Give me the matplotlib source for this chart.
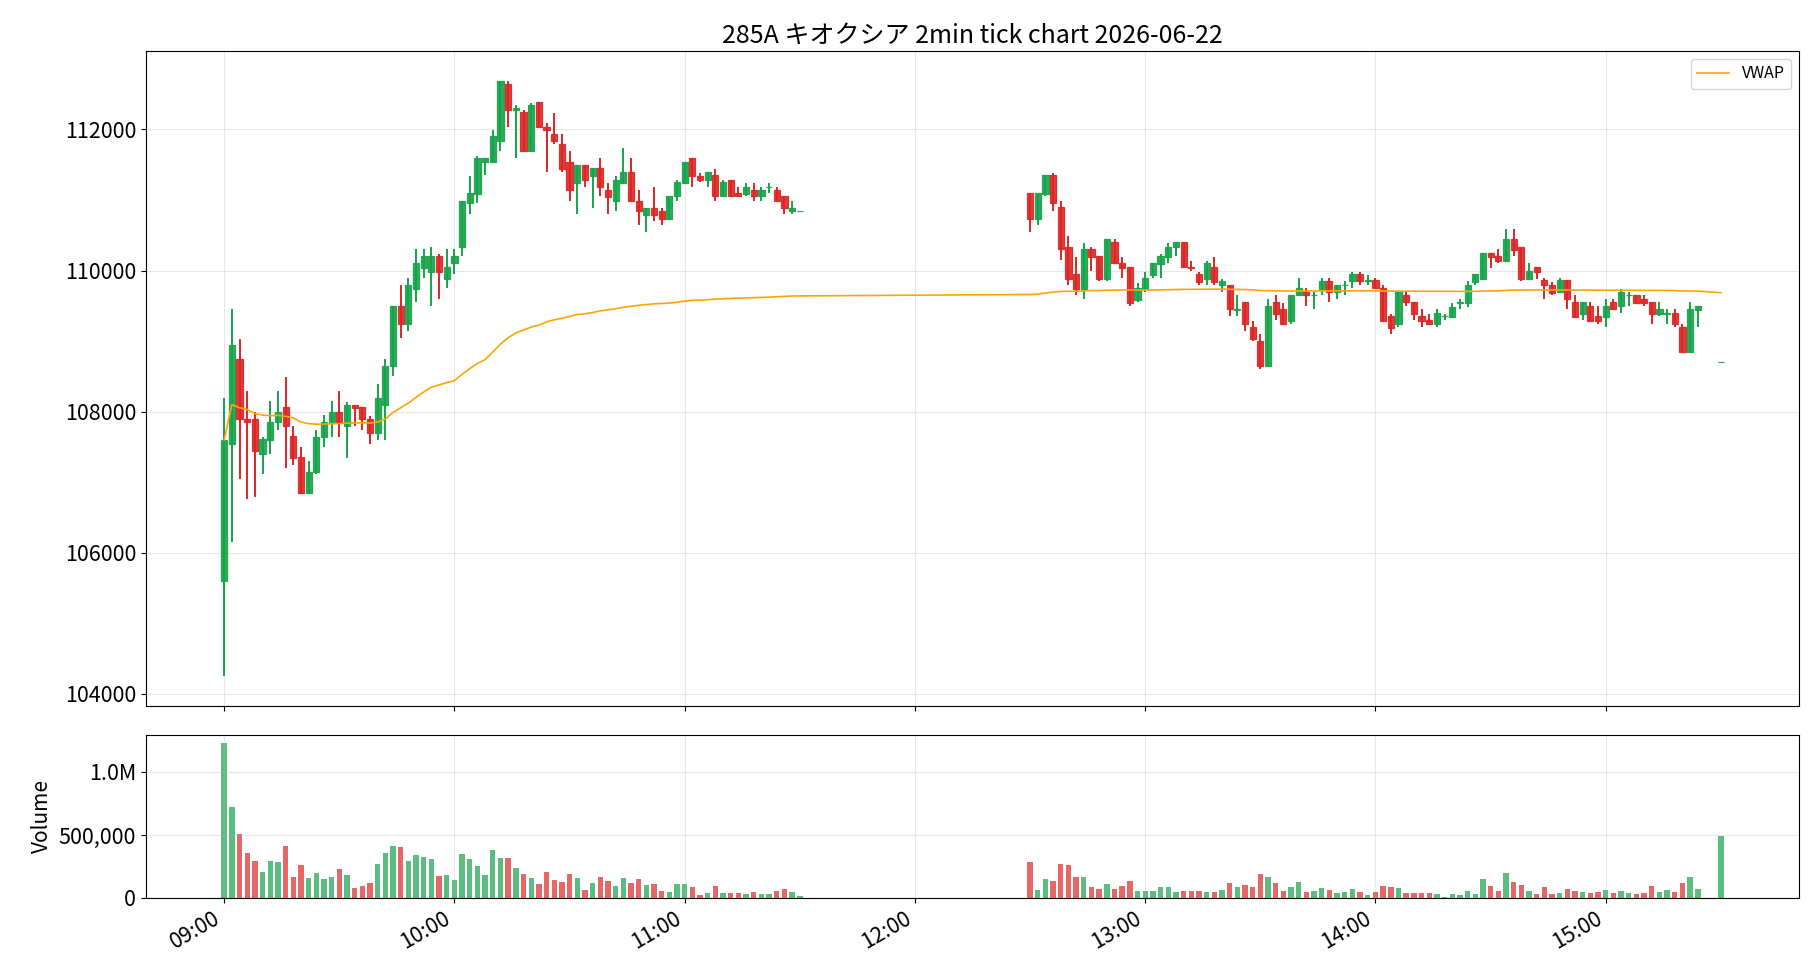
import numpy as np
import pandas as pd
import matplotlib
matplotlib.use("Agg")
import matplotlib.pyplot as plt
import matplotlib.dates as mdates
from matplotlib.ticker import FuncFormatter

plt.rcParams['font.family'] = ['Noto Sans CJK JP', 'DejaVu Sans']

title = "285A キオクシア 2min tick chart 2026-06-22"

# morning session 09:00 - 11:30 (2 min bars)
am_open = [105600, 107540, 108750, 107900, 107900, 107400, 107600, 107850, 108060, 107650,
           107350, 106850, 107140, 107640, 107850, 108000, 107800, 108100, 108060, 107890,
           107700, 108090, 108650, 109500, 109240, 109740, 110040, 109980, 110200, 109880,
           110100, 110330, 110950, 111090, 111540, 111540, 111840, 112650, 112280, 112240,
           111690, 112390, 112040, 111940, 111800, 111540, 111240, 111490, 111340, 111450,
           111140, 110990, 111240, 111390, 110990, 110790, 110890, 110850, 110730, 111050,
           111240, 111600, 111340, 111280, 111350, 111050, 111290, 111100, 111090, 111140,
           111050, 111180, 111140, 111050, 110850, 110850]
am_high = [108190, 109450, 109030, 108290, 107990, 107640, 108150, 108290, 108490, 107800,
           107500, 107300, 107740, 107950, 108150, 108290, 108140, 108100, 108060, 107940,
           108390, 108740, 109500, 109790, 109890, 110300, 110300, 110330, 110240, 110300,
           110300, 110990, 111340, 111630, 111600, 111990, 112690, 112680, 112340, 112280,
           112380, 112390, 112090, 112230, 111930, 111690, 111490, 111490, 111450, 111590,
           111240, 111340, 111730, 111590, 111140, 110890, 111190, 110880, 111050, 111280,
           111540, 111600, 111380, 111390, 111440, 111280, 111290, 111190, 111240, 111240,
           111190, 111240, 111190, 111050, 110990, 110850]
am_low = [104250, 106150, 107050, 106760, 106790, 107110, 107400, 107740, 107200, 107240,
          106850, 106850, 107110, 107500, 107640, 107640, 107340, 107800, 107740, 107540,
          107600, 107600, 108500, 109050, 109140, 109550, 109890, 109500, 109600, 109750,
          109950, 110200, 110800, 110950, 111350, 111540, 111700, 112040, 111600, 111690,
          111690, 112030, 111390, 111800, 111390, 110990, 110800, 111190, 110890, 111050,
          110800, 110850, 111240, 110990, 110640, 110540, 110700, 110640, 110730, 110990,
          111240, 111190, 111250, 111190, 110990, 111050, 111050, 111050, 111050, 110990,
          110990, 111100, 110990, 110800, 110800, 110850]
am_close = [107600, 108950, 107890, 107850, 107440, 107610, 107860, 108000, 107800, 107340,
            106850, 107150, 107640, 107860, 108000, 107850, 108100, 108050, 107890, 107700,
            108200, 108650, 109500, 109240, 109800, 110110, 110200, 110200, 109980, 110050,
            110200, 110990, 111100, 111600, 111600, 111900, 112690, 112280, 112300, 111690,
            112350, 112030, 111990, 111840, 111440, 111140, 111490, 111280, 111450, 111180,
            111040, 111290, 111390, 110990, 110850, 110890, 110790, 110730, 111050, 111250,
            111540, 111340, 111280, 111390, 111050, 111250, 111050, 111050, 111190, 111050,
            111140, 111190, 110990, 110890, 110890, 110850]
am_volume = [1232000, 721000, 508000, 358000, 295000, 208000, 295000, 287000, 413000, 168000,
             263000, 161000, 200000, 153000, 168000, 232000, 184000, 82000, 97000, 121000,
             271000, 358000, 413000, 405000, 295000, 342000, 326000, 311000, 176000, 184000,
             145000, 350000, 311000, 255000, 184000, 382000, 318000, 318000, 240000, 192000,
             161000, 113000, 208000, 145000, 129000, 192000, 161000, 66000, 121000, 168000,
             137000, 97000, 161000, 121000, 153000, 105000, 113000, 58000, 50000, 113000,
             113000, 89000, 26000, 42000, 97000, 42000, 42000, 42000, 34000, 50000,
             34000, 34000, 58000, 74000, 50000, 18000]

# afternoon session 12:30 - 15:24, then closing auction 15:30
pm_open = [111100, 110730, 111080, 111350, 110900, 110340, 109950, 109740, 110300, 110200,
           109880, 110400, 110110, 110050, 109580, 109740, 109940, 110090, 110190, 110330,
           110400, 110050, 109950, 109880, 110050, 109790, 109790, 109440, 109560, 109200,
           109000, 108650, 109550, 109460, 109290, 109650, 109700, 109650, 109740, 109850,
           109700, 109790, 109850, 109950, 109850, 109860, 109750, 109350, 109240, 109650,
           109550, 109350, 109300, 109240, 109350, 109340, 109540, 109540, 109840, 109880,
           110250, 110200, 110130, 110450, 110340, 109880, 110050, 109860, 109800, 109690,
           109860, 109560, 109390, 109500, 109360, 109340, 109560, 109500, 109650, 109660,
           109600, 109560, 109390, 109390, 109400, 109200, 108840, 109440, 108700]
pm_high = [111100, 111100, 111350, 111380, 110990, 110490, 110190, 110390, 110330, 110200,
           110450, 110440, 110190, 110050, 109830, 109980, 110110, 110240, 110390, 110400,
           110400, 110140, 109980, 110140, 110190, 109880, 109790, 109650, 109560, 109290,
           109100, 109590, 109650, 109540, 109650, 109890, 109750, 109690, 109890, 109890,
           109790, 109850, 109980, 109980, 109940, 109890, 109790, 109390, 109710, 109690,
           109550, 109450, 109390, 109450, 109390, 109540, 109590, 109850, 109950, 110250,
           110250, 110300, 110590, 110590, 110340, 110100, 110050, 109890, 109840, 109890,
           109860, 109650, 109560, 109550, 109500, 109590, 109590, 109740, 109690, 109660,
           109650, 109560, 109550, 109450, 109450, 109240, 109550, 109500, 108700]
pm_low = [110540, 110640, 111050, 110850, 110150, 109790, 109650, 109590, 109990, 109850,
          109850, 110100, 109900, 109500, 109550, 109690, 109900, 109900, 110110, 110200,
          110050, 109990, 109790, 109790, 109790, 109690, 109350, 109350, 109140, 109000,
          108610, 108650, 109300, 109240, 109240, 109650, 109500, 109450, 109650, 109550,
          109600, 109650, 109750, 109790, 109790, 109750, 109290, 109100, 109200, 109500,
          109300, 109200, 109240, 109200, 109300, 109340, 109450, 109490, 109790, 109880,
          110040, 110100, 110130, 110200, 109850, 109880, 109880, 109590, 109650, 109690,
          109450, 109340, 109300, 109280, 109240, 109200, 109450, 109400, 109500, 109540,
          109500, 109240, 109350, 109240, 109200, 108840, 108840, 109200, 108700]
pm_close = [110730, 111100, 111350, 110950, 110300, 109880, 109740, 110300, 110190, 109880,
            110450, 110100, 110040, 109540, 109750, 109900, 110110, 110200, 110340, 110400,
            110050, 110040, 109840, 110110, 109840, 109850, 109450, 109450, 109240, 109030,
            108650, 109500, 109390, 109240, 109650, 109750, 109650, 109660, 109850, 109700,
            109790, 109800, 109950, 109850, 109860, 109750, 109290, 109190, 109710, 109550,
            109390, 109290, 109240, 109400, 109350, 109490, 109560, 109800, 109950, 110250,
            110190, 110130, 110450, 110290, 109880, 110000, 109980, 109790, 109680, 109860,
            109590, 109340, 109560, 109280, 109280, 109500, 109450, 109700, 109660, 109540,
            109540, 109390, 109460, 109400, 109240, 108840, 109460, 109500, 108700]
pm_volume = [287000, 66000, 153000, 137000, 271000, 263000, 168000, 168000, 89000, 74000,
             113000, 74000, 97000, 137000, 58000, 58000, 58000, 89000, 89000, 50000,
             58000, 58000, 58000, 50000, 50000, 66000, 121000, 89000, 105000, 89000,
             192000, 168000, 121000, 58000, 89000, 129000, 50000, 58000, 82000, 66000,
             42000, 50000, 74000, 50000, 26000, 50000, 97000, 89000, 82000, 42000,
             42000, 42000, 42000, 34000, 11000, 34000, 26000, 58000, 34000, 153000,
             97000, 58000, 200000, 129000, 105000, 58000, 34000, 89000, 34000, 42000,
             74000, 58000, 50000, 42000, 50000, 66000, 42000, 58000, 42000, 34000,
             42000, 97000, 50000, 66000, 50000, 121000, 168000, 74000, 492000]

am_times = pd.date_range("2026-06-22 09:00", "2026-06-22 11:30", freq="2min")
pm_times = pd.date_range("2026-06-22 12:30", "2026-06-22 15:24", freq="2min").append(
    pd.DatetimeIndex(["2026-06-22 15:30"]))

df = pd.DataFrame({
    "open": am_open + pm_open,
    "high": am_high + pm_high,
    "low": am_low + pm_low,
    "close": am_close + pm_close,
    "volume": am_volume + pm_volume,
}, index=am_times.append(pm_times))

df["vwap"] = (df["close"] * df["volume"]).cumsum() / df["volume"].cumsum()

up_color = "#16a34a"
down_color = "#dc2626"

x = mdates.date2num(df.index.to_pydatetime())
up = df["close"] >= df["open"]
colors = np.where(up, up_color, down_color)

fig = plt.figure(figsize=(18.2, 9.8), dpi=100)
ax = fig.add_axes([0.0802, 0.2796, 0.9083, 0.6684])
ax_vol = fig.add_axes([0.0802, 0.0837, 0.9083, 0.1663], sharex=ax)

body_w = 1.6 / 1440
vol_w = 1.4 / 1440

ax.vlines(x, df["low"], df["high"], colors=colors, linewidth=1.4, zorder=2)
body_bottom = np.minimum(df["open"], df["close"])
body_height = np.abs(df["close"] - df["open"])
ax.bar(x, body_height, bottom=body_bottom, width=body_w, color=colors,
       edgecolor=colors, linewidth=0.9, alpha=0.9, zorder=3)
ax.plot(x, df["vwap"], color="orange", linewidth=1.2, label="VWAP", zorder=4)

ax.set_title(title, fontsize=18)
ax.grid(True, alpha=0.3)
ax.legend(loc="upper right", fontsize=11.5)
ax.tick_params(labelbottom=False, labelsize=15.5)

ax_vol.bar(x, df["volume"], width=vol_w, color=colors, alpha=0.7)
ax_vol.set_ylabel("Volume", fontsize=15)
ax_vol.grid(True, alpha=0.3)
ax_vol.yaxis.set_major_formatter(FuncFormatter(
    lambda v, p: f"{v / 1e6:.1f}M" if v >= 1e6 else f"{v:,.0f}"))
ax_vol.tick_params(labelsize=15.5)

ax_vol.xaxis.set_major_locator(mdates.HourLocator())
ax_vol.xaxis.set_major_formatter(mdates.DateFormatter("%H:%M"))
for lbl in ax_vol.get_xticklabels():
    lbl.set_rotation(30)
    lbl.set_ha("right")

fig.savefig("out.png", dpi=100)
